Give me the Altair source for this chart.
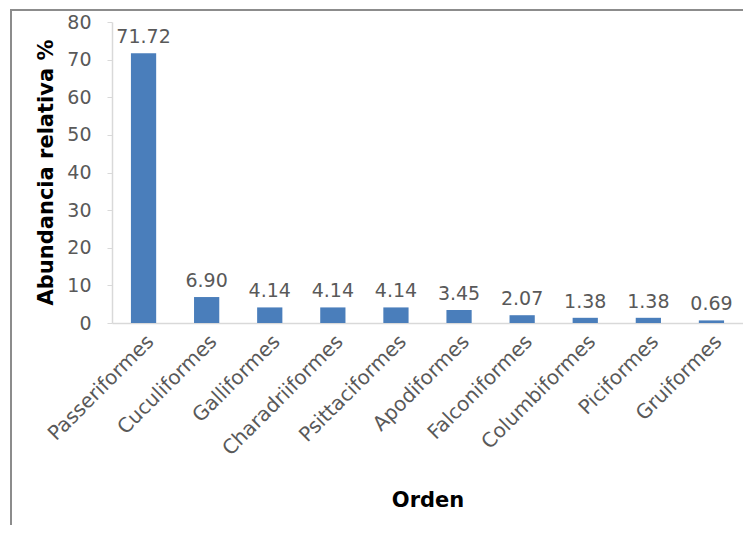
import altair as alt
import pandas as pd

orders = ["Passeriformes", "Cuculiformes", "Galliformes", "Charadriiformes",
          "Psittaciformes", "Apodiformes", "Falconiformes", "Columbiformes",
          "Piciformes", "Gruiformes"]
values = [71.72, 6.90, 4.14, 4.14, 4.14, 3.45, 2.07, 1.38, 1.38, 0.69]
y_ticks = [0, 10, 20, 30, 40, 50, 60, 70, 80]

df = pd.DataFrame({"Orden": orders, "Abundancia": values})

FONT = "DejaVu Sans"
GREY = "#595959"

x_enc = alt.X("Orden:N", sort=orders, title="Orden",
              scale=alt.Scale(paddingInner=0.6, paddingOuter=0.3),
              axis=alt.Axis(labelAngle=-45, labelFont=FONT, labelFontSize=20,
                            labelColor=GREY, ticks=False, domainColor="#d9d9d9",
                            domainWidth=1.5, labelPadding=8, labelOverlap=False,
                            titleFont=FONT, titleFontSize=21, titleFontWeight="bold",
                            titleColor="#000000", titleY=177, titleBaseline="middle"))
y_enc = alt.Y("Abundancia:Q", title="Abundancia relativa %",
              scale=alt.Scale(domain=[0, 80], nice=False),
              axis=alt.Axis(values=y_ticks, grid=False,
                            labelOverlap=False, labelFlush=False,
                            labelFont=FONT, labelFontSize=19, labelColor=GREY,
                            tickColor="#d9d9d9", tickSize=5, domainColor="#d9d9d9",
                            domainWidth=1.5, labelPadding=16,
                            titleFont=FONT, titleFontSize=21, titleFontWeight="bold",
                            titleColor="#000000", titleX=-66, titleY=150,
                            titleAlign="center", titleBaseline="middle"))

bars = alt.Chart(df).mark_bar(color="#4a7ebb").encode(x=x_enc, y=y_enc)
labels = alt.Chart(df).mark_text(dy=-16, font=FONT, fontSize=19, color=GREY).encode(
    x=x_enc, y=y_enc,
    text=alt.Text("Abundancia:Q", format=".2f"))

frame = alt.Chart(df).mark_rect(fill=None, fillOpacity=0, stroke="#8c8c8c",
                                strokeWidth=2).encode(
    x=alt.value(-101), x2=alt.value(700), y=alt.value(-12), y2=alt.value(600))

chart = alt.layer(bars, labels, frame).properties(
    width=631, height=301,
    autosize=alt.AutoSizeParams(type="none"),
    padding={"left": 104, "top": 14, "right": 0, "bottom": 202},
).configure_view(stroke=None)

chart.save("out.html", embed_options={"renderer": "svg", "actions": False})
